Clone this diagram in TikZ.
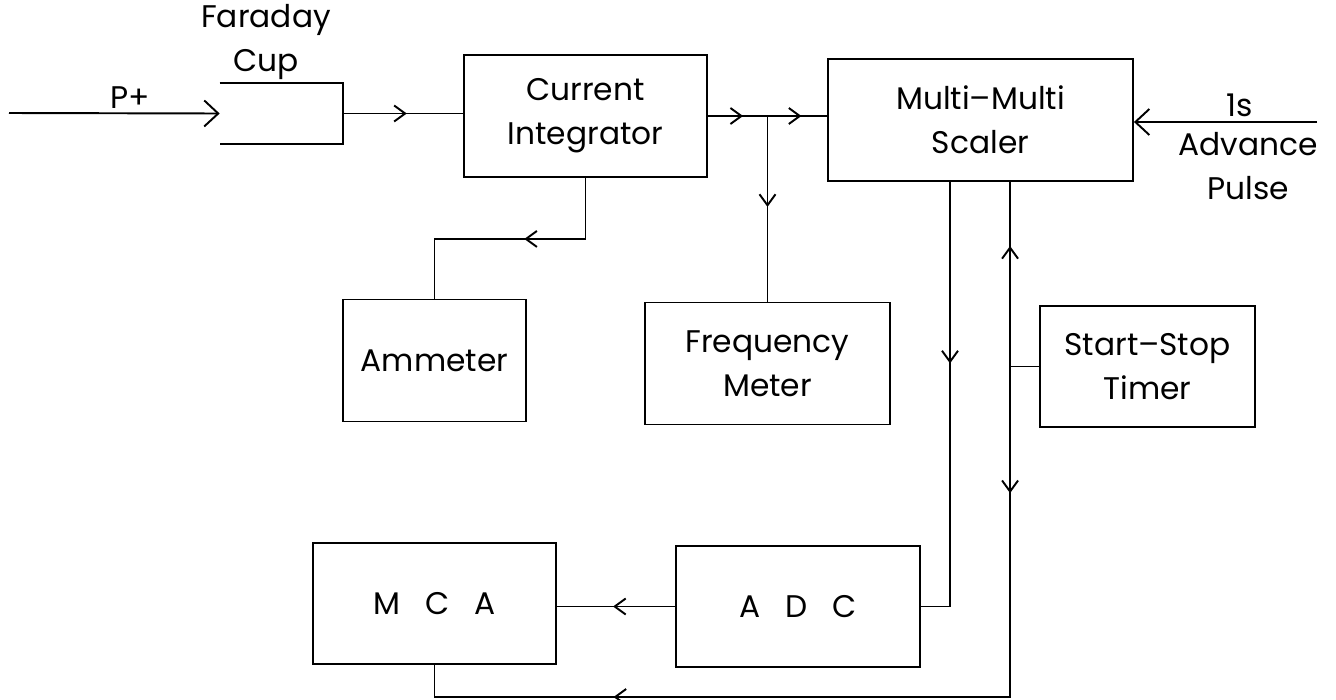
\documentclass[tikz,border=0pt]{standalone}
\usepackage{fontspec}
\setmainfont{Poppins}
\usetikzlibrary{arrows.meta,decorations.markings,calc}
\newcommand{\boxfont}{\fontsize{17.8}{25}\selectfont}
\tikzset{
  wire/.style={line width=1.1pt},
  blk/.style={draw,line width=1.1pt,minimum height=2.44cm,inner sep=0pt,align=center,font=\boxfont},
  lbl/.style={font=\boxfont,align=center,inner sep=0pt},
  midarr/.style={postaction={decorate,decoration={markings,mark=at position #1 with {\arrow{Straight Barb[length=0.22cm,width=0.32cm]}}}}},
  inarr/.style={-{Straight Barb[length=0.28cm,width=0.52cm]}}
}

\begin{document}
\begin{tikzpicture}[x=0.02cm,y=-0.02cm]
\useasboundingbox (0,0) rectangle (1336,700);

\node[blk,minimum width=4.86cm] (ci) at (585.5,116) {Current\\Integrator};
\node[blk,minimum width=6.1cm] (mm) at (980.5,120) {Multi--Multi\\Scaler};
\node[blk,minimum width=3.66cm] (am) at (434.5,360.5) {Ammeter};
\node[blk,minimum width=4.9cm] (fm) at (767.5,363.5) {Frequency\\Meter};
\node[blk,minimum width=4.3cm,minimum height=2.42cm] (ss) at (1147.5,366.5) {Start--Stop\\Timer};
\node[blk,minimum width=4.86cm,minimum height=2.42cm] (mca) at (434.5,603.5) {M\hspace{0.8em}C\hspace{0.8em}A};
\node[blk,minimum width=4.88cm,minimum height=2.42cm] (adc) at (798,606.5) {A\hspace{0.8em}D\hspace{0.8em}C};

\node[minimum width=2.46cm,minimum height=1.22cm,inner sep=0pt] (cup) at (281.5,113.5) {};
\draw[wire] (cup.north west) -- (cup.north east) -- (cup.south east) -- (cup.south west);
\node[lbl] (cuplbl) at (266,42) {Faraday\\Cup};

\coordinate (beam) at (9,113);
\draw[wire,inarr] (beam) -- (cup.west);
\node[lbl] (pplus) at (130,98) {P+};

\coordinate (clk) at (1317,122);
\draw[wire,inarr] (clk) -- (clk -| mm.east);
\node[lbl] (onesec) at (1240,105) {1s};
\node[lbl] (advlbl) at (1248,166) {Advance\\Pulse};

\draw[wire,midarr=0.53] (cup.east) -- (cup.east -| ci.west);
\coordinate (jn) at (fm.north |- ci.east);
\draw[wire,midarr=0.59] (ci.east) -- (jn);
\draw[wire,midarr=0.57] (jn) -- (jn -| mm.west);
\draw[wire,midarr=0.49] (jn) -- (fm.north);
\draw[wire,midarr=0.45] (ci.south) -- ++(0,61) -| (am.north);

\draw[wire,midarr=0.40] ($(mm.south)+(-30.5,0)$) |- (adc.east);
\draw[wire,midarr=0.525] (adc.west) -- (adc.west -| mca.east);

\coordinate (tap) at ($(ss.west)+(-29,0)$);
\draw[wire,midarr=0.70] (ss.west) -- (tap) -- (tap |- mm.south);
\draw[wire,midarr=0.135,midarr=0.775] (tap) -- ++(0,330.5) -| (mca.south);
\end{tikzpicture}
\end{document}
